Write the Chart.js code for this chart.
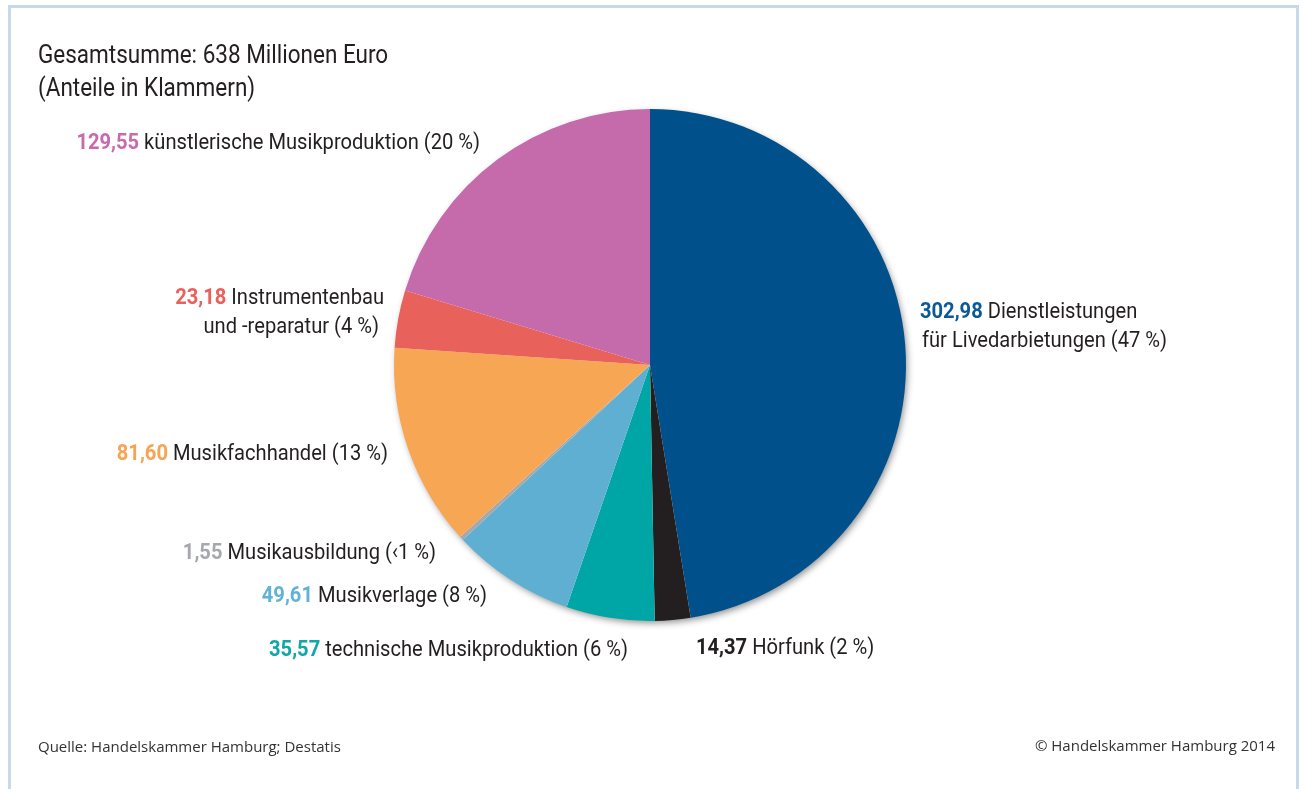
<!DOCTYPE html>
<html lang="de">
<head>
<meta charset="utf-8">
<title>Musikwirtschaft Hamburg</title>
<script src="https://cdn.jsdelivr.net/npm/chart.js@4.4.1/dist/chart.umd.min.js"></script>
<style>
  html, body { margin: 0; padding: 0; background: #fff; }
  #wrap { position: relative; width: 1306px; height: 789px; overflow: hidden; }
  #frame {
    position: absolute; left: 8px; top: 5px; width: 1291px; height: 800px;
    border: 3px solid #c9d8e7; box-sizing: border-box;
  }
  canvas { position: absolute; left: 0; top: 0; }
</style>
</head>
<body>
<div id="wrap">
  <div id="frame"></div>
  <canvas id="chart" width="1306" height="789"></canvas>
</div>
<script>
const categories = [
    ['Dienstleistungen', 'für Livedarbietungen'],
    ['Hörfunk'],
    ['technische Musikproduktion'],
    ['Musikverlage'],
    ['Musikausbildung'],
    ['Musikfachhandel'],
    ['Instrumentenbau', 'und -reparatur'],
    ['künstlerische Musikproduktion']
];
const values = [302.98, 14.37, 35.57, 49.61, 1.55, 81.60, 23.18, 129.55];
const shares = ['47 %', '2 %', '6 %', '8 %', '‹1 %', '13 %', '4 %', '20 %'];
const sliceColors = ['#00508c', '#231f20', '#00a5a5', '#5eafd2', '#a6a8ab', '#f7a653', '#e8615b', '#c56aab'];
const valueColors = ['#0b5a98', '#231f20', '#13a6a6', '#62b2d6', '#a6a8ab', '#f6a451', '#e8615b', '#c86aad'];

const title = ['Gesamtsumme: 638 Millionen Euro', '(Anteile in Klammern)'];
const source = 'Quelle: Handelskammer Hamburg; Destatis';
const copyright = '© Handelskammer Hamburg 2014';

// where each slice label sits: anchor x, baseline of first line, alignment
const labelSpots = [
    { x: 920, y: 318, align: 'left', indent: [0, 2] },
    { x: 696, y: 654, align: 'left' },
    { x: 628, y: 656, align: 'right' },
    { x: 487, y: 602, align: 'right' },
    { x: 436, y: 559, align: 'right' },
    { x: 388, y: 460, align: 'right' },
    { x: 384, y: 304, align: 'right', indent: [0, -5] },
    { x: 480, y: 149, align: 'right' }
];

const FONT = 'Roboto, "Liberation Sans", sans-serif';
const TITLE_SQUEEZE = 0.9;   // narrow the face to a condensed look
const LABEL_SQUEEZE = 0.915;
const textColor = '#231f20';

function fmt(v) {
    return v.toFixed(2).replace('.', ',');
}

function narrowWidth(ctx, str, sx) {
    return ctx.measureText(str).width * sx;
}

function narrowText(ctx, str, x, y, sx) {
    ctx.save();
    ctx.translate(x, y);
    ctx.scale(sx, 1);
    ctx.textAlign = 'left';
    ctx.fillText(str, 0, 0);
    ctx.restore();
}

// soft shadow under the whole pie, drawn once so slices don't shade each other
const pieShadow = {
    id: 'pieShadow',
    beforeDatasetsDraw(chart) {
        const arc = chart.getDatasetMeta(0).data[0];
        if (!arc) return;
        const ctx = chart.ctx;
        ctx.save();
        ctx.shadowColor = 'rgba(0, 0, 0, 0.45)';
        ctx.shadowBlur = 7;
        ctx.shadowOffsetX = 2;
        ctx.shadowOffsetY = 3;
        ctx.fillStyle = '#ffffff';
        ctx.beginPath();
        ctx.arc(arc.x, arc.y, arc.outerRadius - 1, 0, Math.PI * 2);
        ctx.fill();
        ctx.restore();
    }
};

const textLayer = {
    id: 'textLayer',
    afterDraw(chart) {
        const ctx = chart.ctx;
        ctx.save();
        ctx.textBaseline = 'alphabetic';

        ctx.fillStyle = textColor;
        ctx.font = '400 25px ' + FONT;
        narrowText(ctx, title[0], 38, 63, TITLE_SQUEEZE);
        narrowText(ctx, title[1], 38, 96, TITLE_SQUEEZE);

        const lineH = 29;
        const bold = '700 22px ' + FONT;
        const reg = '400 22px ' + FONT;
        values.forEach((v, i) => {
            const spot = labelSpots[i];
            const lines = categories[i].slice();
            lines[lines.length - 1] += ' (' + shares[i] + ')';
            lines.forEach((line, j) => {
                const y = spot.y + j * lineH;
                const shift = spot.indent ? spot.indent[j] : 0;
                const head = j === 0 ? fmt(v) + ' ' : '';
                ctx.font = bold;
                const wHead = narrowWidth(ctx, head, LABEL_SQUEEZE);
                ctx.font = reg;
                const wBody = narrowWidth(ctx, line, LABEL_SQUEEZE);
                let x0 = spot.align === 'left' ? spot.x : spot.x - wHead - wBody;
                x0 += shift;
                if (head) {
                    ctx.font = bold;
                    ctx.fillStyle = valueColors[i];
                    narrowText(ctx, head, x0, y, LABEL_SQUEEZE);
                }
                ctx.font = reg;
                ctx.fillStyle = textColor;
                narrowText(ctx, line, x0 + wHead, y, LABEL_SQUEEZE);
            });
        });

        ctx.font = '400 15px "Open Sans", sans-serif';
        ctx.fillStyle = '#333333';
        ctx.textAlign = 'left';
        ctx.fillText(source, 38, 752);
        ctx.textAlign = 'right';
        ctx.fillText(copyright, 1275, 751);
        ctx.restore();
    }
};

new Chart(document.getElementById('chart'), {
    type: 'pie',
    data: {
        labels: categories.map(c => c.join(' ')),
        datasets: [{
            data: values,
            backgroundColor: sliceColors,
            borderWidth: 0
        }]
    },
    options: {
        responsive: false,
        animation: false,
        layout: { padding: { left: 394, top: 109, right: 400, bottom: 168 } },
        plugins: {
            legend: { display: false },
            tooltip: { enabled: false }
        }
    },
    plugins: [pieShadow, textLayer]
});
</script>
</body>
</html>
